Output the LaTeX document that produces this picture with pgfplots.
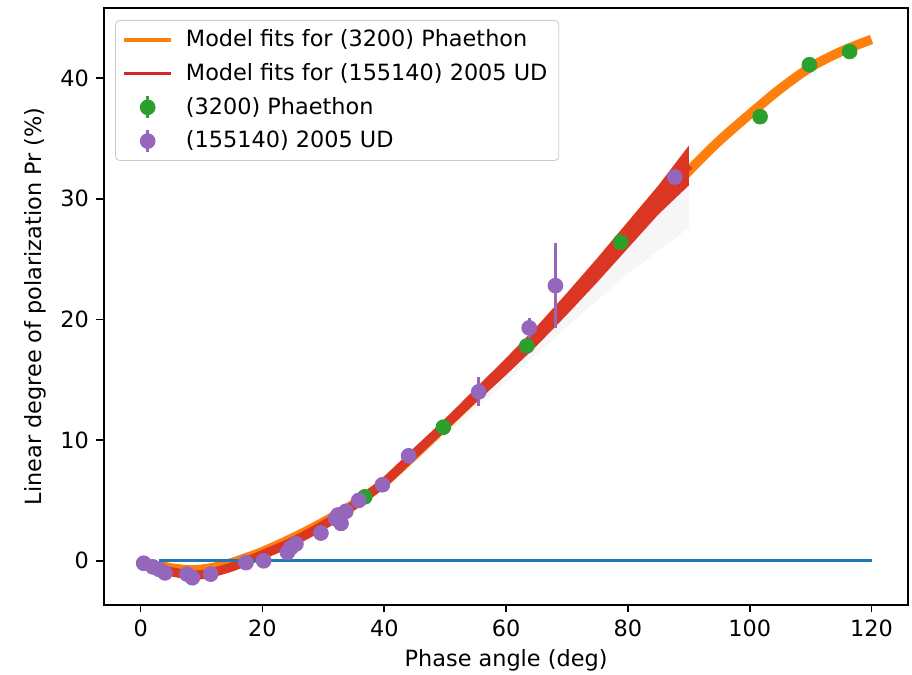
\documentclass[border=0pt]{standalone}
\usepackage{fontspec}
\setmainfont{DejaVu Sans}
\usepackage{pgfplots}
\pgfplotsset{compat=1.18}
\definecolor{mblue}{HTML}{1F77B4}
\definecolor{morange}{HTML}{FF7F0E}
\definecolor{mgreen}{HTML}{2CA02C}
\definecolor{mred}{HTML}{D62728}
\definecolor{mpurple}{HTML}{9467BD}
\definecolor{bandred}{HTML}{DA3623}
\begin{document}
\begin{tikzpicture}
\begin{axis}[
  scale only axis,
  width=370pt, height=274.6pt,
  xmin=-6, xmax=126, ymin=-3.64, ymax=45.8,
  xtick={0,20,40,60,80,100,120},
  ytick={0,10,20,30,40},
  tick align=outside, tick pos=left,
  major tick length=3.5pt,
  every tick/.style={black, line width=0.8pt},
  axis line style={line width=0.8pt},
  /pgf/number format/assume math mode=true,
  tick label style={font=\fontsize{10.3}{12.4}\selectfont},
  label style={font=\fontsize{10.3}{12.4}\selectfont},
  xlabel={Phase angle (deg)},
  ylabel={Linear degree of polarization Pr (\%)},
  xlabel style={at={(0.5,0)}, anchor=center, yshift=-25.8pt},
  ylabel style={at={(0,0.5)}, anchor=center, rotate=0, xshift=0pt, yshift=31.8pt},
  legend cell align=left,
  legend style={at={(0.0137,0.98)}, anchor=north west, draw=black!20, rounded corners=2pt,
    font=\fontsize{10.3}{12.4}\selectfont, row sep=2.2pt, inner xsep=3.2pt, inner ysep=2.3pt,
    /tikz/every odd column/.append style={column sep=4pt}},
]
% faint spread of fits below the red band
\addplot[fill=black, fill opacity=0.035, draw=none, forget plot] coordinates {
 (45,8.6) (55,13.3) (65,18.2) (75,23.4) (90,31.5) (90,27.6) (80,23.8) (70,19.4) (60,14.8) (50,10.4) (45,8.2)} -- cycle;
% Phaethon fits
\addplot[morange, line width=4.4pt, smooth,
  legend image code/.code={\draw[morange, line width=1.5pt] (0pt,0pt) -- (21.7pt,0pt);}] coordinates {
 (3,-0.35) (5,-0.6) (8,-0.75) (10,-0.7) (12,-0.55) (15,-0.15) (17,0.2) (20,0.75) (25,1.9) (30,3.2)
 (35,4.7) (40,6.5) (45,8.8) (50,11.2) (55,13.6) (60,16.0) (65,18.6) (70,21.3) (75,24.0) (80,26.7)
 (85,29.5) (90,32.3) (95,34.8) (100,37.0) (105,39.1) (110,40.9) (115,42.2) (120,43.2)};
\addlegendentry{Model fits for (3200) Phaethon}
% 2005 UD fits
\addplot[bandred, line width=4.2pt, smooth,
  legend image code/.code={\draw[mred, line width=1.5pt] (0pt,0pt) -- (21.7pt,0pt);}] coordinates {
 (3,-0.55) (5,-0.9) (8,-1.15) (10,-1.15) (12,-0.95) (15,-0.5) (18,0.1) (20,0.5) (25,1.6) (30,2.95)
 (35,4.6) (40,6.5) (45,8.9) (50,11.25) (55,13.7) (60,16.1) (65,18.6) (70,21.3) (75,24.1) (80,27.0)
 (85,29.9) (90,32.8)};
\addlegendentry{Model fits for (155140) 2005 UD}
\addplot[fill=bandred, draw=none, forget plot] coordinates {
 (45,9.3) (50,11.75) (55,14.3) (60,16.8) (65,19.4) (70,22.2) (75,25.1) (80,28.1) (85,31.1) (90,34.4)
 (90,31.1) (85,28.7) (80,25.9) (75,23.1) (70,20.4) (65,17.8) (60,15.4) (55,13.1) (50,10.75) (45,8.5)} -- cycle;
% zero line
\addplot[mblue, line width=1.5pt, forget plot] coordinates {(3,0) (120,0)};
% Phaethon data
\addplot[only marks, mark=*, mark size=3.4pt, mgreen, mark options={draw=mgreen, fill=mgreen},
  legend image code/.code={\draw[mgreen, line width=1.5pt] (10.85pt,-5pt) -- (10.85pt,5pt); \fill[mgreen] (10.85pt,0pt) circle (3.4pt);},
  error bars/.cd, y dir=both, y explicit, error mark=none, error bar style={line width=1.5pt, mgreen}]
  table[x=x, y=y, y error=e] {
x y e
36.8 5.3 0.2
49.7 11.07 0.2
63.4 17.8 0.2
78.8 26.4 0.2
101.7 36.8 0.2
109.8 41.1 0.2
116.4 42.2 0.2
};
\addlegendentry{(3200) Phaethon}
% 2005 UD data
\addplot[only marks, mark=*, mark size=3.4pt, mpurple, mark options={draw=mpurple, fill=mpurple},
  legend image code/.code={\draw[mpurple, line width=1.5pt] (10.85pt,-5pt) -- (10.85pt,5pt); \fill[mpurple] (10.85pt,0pt) circle (3.4pt);},
  error bars/.cd, y dir=both, y explicit, error mark=none, error bar style={line width=1.5pt, mpurple}]
  table[x=x, y=y, y error=e] {
x y e
0.5 -0.2 0.2
2.0 -0.5 0.2
3.0 -0.7 0.2
4.0 -1.0 0.2
7.6 -1.1 0.2
8.5 -1.4 0.2
11.5 -1.1 0.2
17.3 -0.15 0.2
20.2 0.0 0.2
24.1 0.7 0.2
24.7 1.1 0.2
25.5 1.4 0.2
29.6 2.3 0.2
32.0 3.5 0.2
32.4 3.8 0.2
32.9 3.1 0.2
33.7 4.1 0.2
35.8 5.0 0.2
39.7 6.3 0.2
44.0 8.7 0.2
55.5 14.0 1.2
63.8 19.3 0.8
68.1 22.8 3.5
87.7 31.8 0.6
};
\addlegendentry{(155140) 2005 UD}
\end{axis}
\pgfresetboundingbox
\path ([shift={(-47.9pt,-32.3pt)}]current axis.south west) rectangle ([shift={(1.8pt,3.7pt)}]current axis.north east);
\end{tikzpicture}
\end{document}
